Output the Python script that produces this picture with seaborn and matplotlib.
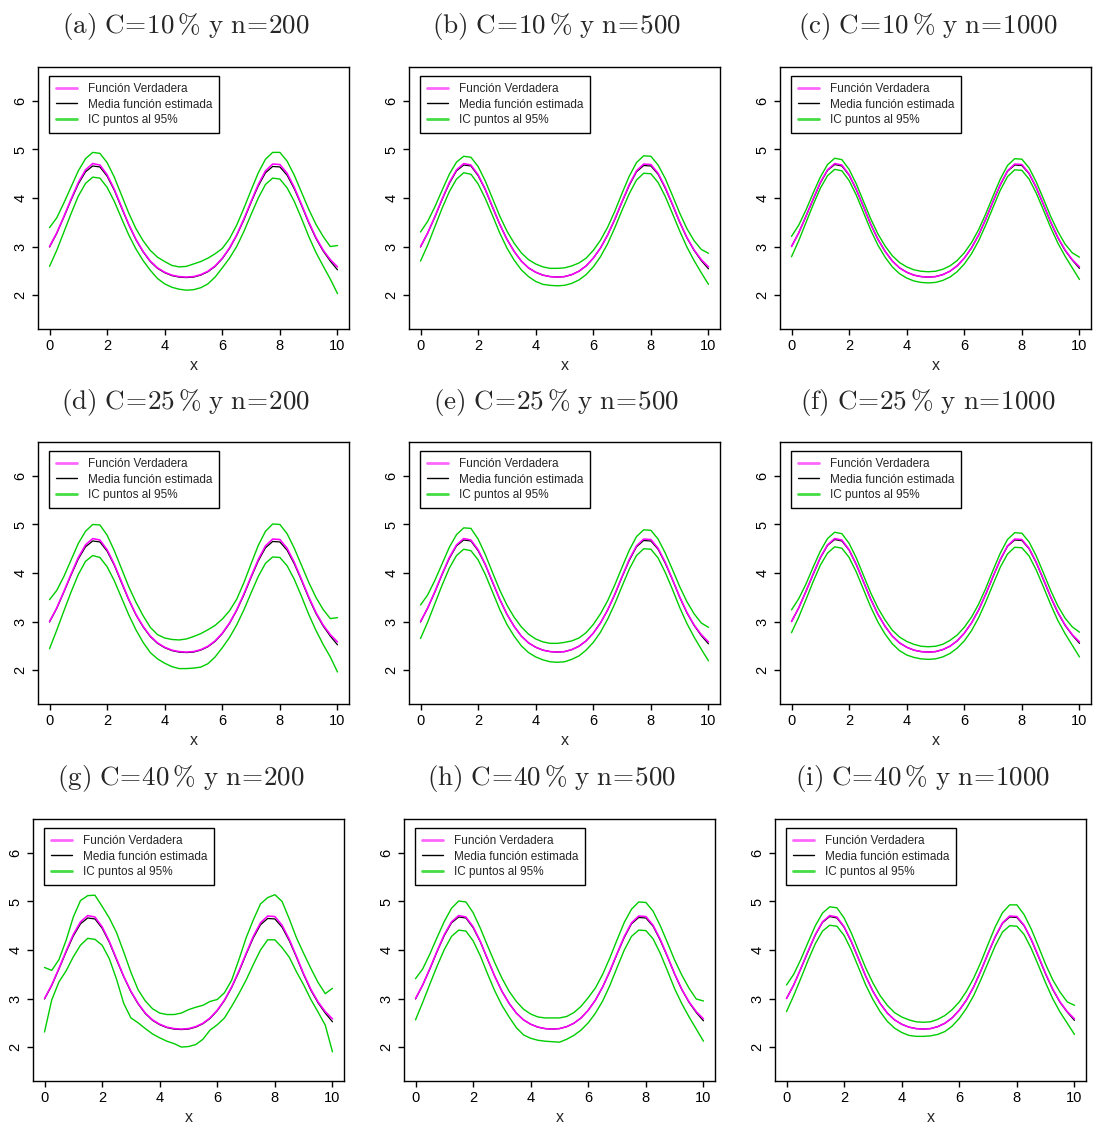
import numpy as np
import pandas as pd
import matplotlib
matplotlib.use("Agg")
import matplotlib.pyplot as plt
import seaborn as sns
from matplotlib.lines import Line2D

# ---------------- data ----------------
x_grid = np.linspace(0, 10, 41)

true_f = [3.00,3.28,3.62,3.98,4.32,4.58,4.71,4.68,4.48,4.18,3.82,3.46,3.15,2.90,2.70,2.56,2.47,2.41,2.38,2.37,2.38,2.42,2.49,2.60,2.76,2.97,3.24,3.57,3.93,4.28,4.56,4.70,4.69,4.51,4.22,3.87,3.51,3.19,2.93,2.73,2.58]

mean_n200 = [2.99,3.27,3.61,3.96,4.29,4.54,4.66,4.64,4.45,4.16,3.80,3.45,3.14,2.89,2.69,2.55,2.46,2.40,2.37,2.36,2.37,2.41,2.48,2.59,2.75,2.96,3.23,3.55,3.91,4.25,4.52,4.65,4.64,4.47,4.19,3.85,3.49,3.17,2.91,2.70,2.52]
mean_n500 = [2.99,3.28,3.61,3.97,4.30,4.56,4.68,4.66,4.46,4.17,3.81,3.46,3.15,2.90,2.70,2.56,2.47,2.41,2.38,2.37,2.38,2.42,2.49,2.60,2.76,2.97,3.24,3.56,3.92,4.26,4.54,4.67,4.66,4.49,4.20,3.86,3.50,3.18,2.92,2.71,2.54]
mean_n1000 = [3.00,3.28,3.62,3.97,4.31,4.57,4.69,4.66,4.47,4.17,3.82,3.46,3.15,2.90,2.70,2.56,2.47,2.41,2.38,2.37,2.38,2.42,2.49,2.60,2.76,2.97,3.24,3.57,3.93,4.27,4.55,4.68,4.67,4.50,4.21,3.86,3.50,3.18,2.92,2.72,2.55]

up_a = [3.39,3.59,3.90,4.23,4.56,4.81,4.94,4.92,4.73,4.43,4.06,3.69,3.37,3.12,2.92,2.78,2.69,2.61,2.58,2.59,2.64,2.69,2.76,2.85,2.96,3.16,3.44,3.79,4.16,4.52,4.80,4.94,4.94,4.76,4.47,4.12,3.77,3.46,3.21,3.00,3.02]
lo_a = [2.59,2.92,3.30,3.68,4.04,4.30,4.43,4.41,4.22,3.93,3.58,3.24,2.95,2.71,2.51,2.34,2.23,2.16,2.12,2.10,2.11,2.15,2.23,2.37,2.56,2.76,3.00,3.31,3.66,4.00,4.28,4.41,4.39,4.21,3.93,3.58,3.21,2.88,2.60,2.33,2.03]
up_b = [3.30,3.52,3.82,4.16,4.49,4.74,4.86,4.84,4.65,4.35,3.99,3.63,3.32,3.07,2.87,2.73,2.64,2.58,2.55,2.55,2.56,2.60,2.66,2.76,2.92,3.13,3.40,3.73,4.10,4.45,4.73,4.87,4.86,4.68,4.40,4.05,3.69,3.37,3.12,2.94,2.86]
lo_b = [2.70,3.03,3.41,3.79,4.13,4.39,4.52,4.49,4.29,3.99,3.64,3.28,2.97,2.72,2.52,2.38,2.28,2.22,2.20,2.19,2.20,2.24,2.31,2.42,2.58,2.79,3.06,3.39,3.75,4.09,4.37,4.51,4.50,4.32,4.03,3.68,3.32,2.99,2.71,2.46,2.22]
up_c = [3.21,3.44,3.75,4.10,4.43,4.69,4.82,4.79,4.59,4.29,3.93,3.57,3.26,3.01,2.81,2.67,2.58,2.52,2.49,2.48,2.49,2.53,2.60,2.71,2.87,3.08,3.35,3.68,4.04,4.39,4.67,4.81,4.80,4.62,4.33,3.98,3.62,3.31,3.05,2.87,2.78]
lo_c = [2.79,3.12,3.49,3.86,4.20,4.46,4.59,4.56,4.36,4.06,3.70,3.34,3.03,2.78,2.58,2.44,2.35,2.29,2.26,2.25,2.26,2.30,2.37,2.48,2.64,2.85,3.12,3.45,3.81,4.16,4.44,4.58,4.57,4.39,4.10,3.75,3.39,3.07,2.80,2.56,2.32]
up_d = [3.45,3.64,3.93,4.27,4.61,4.86,5.00,4.99,4.78,4.46,4.09,3.72,3.40,3.12,2.88,2.73,2.66,2.63,2.62,2.64,2.69,2.75,2.83,2.92,3.05,3.22,3.46,3.80,4.19,4.57,4.86,5.01,5.00,4.81,4.51,4.16,3.81,3.50,3.25,3.06,3.08]
lo_d = [2.44,2.82,3.22,3.61,3.97,4.24,4.36,4.32,4.13,3.84,3.49,3.14,2.83,2.57,2.36,2.23,2.14,2.07,2.03,2.03,2.04,2.06,2.13,2.27,2.46,2.67,2.93,3.24,3.59,3.93,4.20,4.33,4.32,4.15,3.87,3.52,3.15,2.82,2.53,2.27,1.96]
up_e = [3.34,3.55,3.85,4.19,4.53,4.79,4.93,4.92,4.70,4.38,4.01,3.65,3.34,3.09,2.89,2.74,2.64,2.58,2.55,2.55,2.57,2.60,2.66,2.77,2.94,3.16,3.43,3.76,4.12,4.47,4.75,4.89,4.88,4.70,4.41,4.07,3.72,3.41,3.16,2.97,2.88]
lo_e = [2.65,2.99,3.37,3.75,4.10,4.36,4.49,4.46,4.27,3.97,3.61,3.25,2.94,2.70,2.50,2.36,2.27,2.21,2.17,2.16,2.17,2.22,2.29,2.41,2.57,2.78,3.05,3.37,3.73,4.08,4.36,4.50,4.49,4.31,4.01,3.66,3.29,2.96,2.68,2.43,2.19]
up_f = [3.24,3.47,3.77,4.12,4.45,4.71,4.84,4.81,4.61,4.31,3.95,3.59,3.28,3.03,2.82,2.68,2.59,2.53,2.49,2.48,2.49,2.53,2.61,2.72,2.88,3.09,3.36,3.69,4.06,4.41,4.69,4.83,4.82,4.64,4.35,4.00,3.64,3.32,3.07,2.89,2.78]
lo_f = [2.77,3.09,3.45,3.82,4.16,4.41,4.54,4.51,4.32,4.02,3.66,3.30,2.99,2.74,2.54,2.40,2.31,2.26,2.23,2.22,2.23,2.27,2.34,2.45,2.60,2.81,3.08,3.41,3.77,4.12,4.39,4.53,4.52,4.35,4.06,3.71,3.35,3.02,2.75,2.51,2.27]
up_g = [3.64,3.58,3.80,4.20,4.68,5.02,5.12,5.13,4.90,4.66,4.36,3.96,3.54,3.18,2.95,2.79,2.70,2.67,2.67,2.70,2.77,2.82,2.86,2.94,2.98,3.12,3.38,3.80,4.25,4.62,4.95,5.08,5.14,5.00,4.64,4.25,3.93,3.62,3.33,3.10,3.21]
lo_g = [2.31,2.97,3.34,3.57,3.86,4.10,4.24,4.22,4.10,3.82,3.40,2.90,2.60,2.50,2.38,2.27,2.19,2.12,2.07,2.00,2.01,2.05,2.16,2.35,2.46,2.60,2.84,3.10,3.38,3.70,4.00,4.21,4.21,4.05,3.85,3.55,3.28,2.98,2.72,2.45,1.90]
up_h = [3.41,3.61,3.92,4.26,4.59,4.86,5.01,4.99,4.77,4.45,4.09,3.74,3.42,3.15,2.94,2.78,2.68,2.62,2.60,2.60,2.60,2.63,2.71,2.84,3.02,3.22,3.50,3.84,4.21,4.57,4.84,4.99,4.98,4.80,4.50,4.15,3.79,3.48,3.21,2.99,2.95]
lo_h = [2.56,2.92,3.30,3.67,4.01,4.28,4.41,4.39,4.19,3.88,3.51,3.16,2.86,2.62,2.40,2.25,2.18,2.14,2.12,2.11,2.10,2.16,2.24,2.35,2.50,2.70,2.95,3.27,3.64,4.00,4.28,4.41,4.40,4.23,3.93,3.57,3.20,2.89,2.62,2.37,2.12]
up_i = [3.28,3.50,3.81,4.16,4.50,4.76,4.89,4.87,4.66,4.35,3.99,3.63,3.32,3.06,2.86,2.71,2.62,2.56,2.52,2.51,2.52,2.57,2.65,2.77,2.93,3.15,3.42,3.75,4.12,4.48,4.77,4.93,4.93,4.73,4.43,4.07,3.70,3.38,3.13,2.93,2.86]
lo_i = [2.73,3.06,3.42,3.79,4.13,4.39,4.51,4.49,4.30,4.00,3.64,3.28,2.98,2.73,2.53,2.39,2.30,2.24,2.22,2.22,2.23,2.26,2.32,2.43,2.59,2.80,3.06,3.39,3.74,4.09,4.37,4.50,4.49,4.32,4.03,3.68,3.32,2.99,2.72,2.49,2.26]

panel_letters = ["a", "b", "c", "d", "e", "f", "g", "h", "i"]
censoring = ["10", "10", "10", "25", "25", "25", "40", "40", "40"]
sample_sizes = ["200", "500", "1000", "200", "500", "1000", "200", "500", "1000"]
mean_by_n = {"200": mean_n200, "500": mean_n500, "1000": mean_n1000}
upper_bands = [up_a, up_b, up_c, up_d, up_e, up_f, up_g, up_h, up_i]
lower_bands = [lo_a, lo_b, lo_c, lo_d, lo_e, lo_f, lo_g, lo_h, lo_i]

legend_labels = ["Función Verdadera", "Media función estimada", "IC puntos al 95%"]
x_ticks = [0, 2, 4, 6, 8, 10]
y_ticks = [2, 3, 4, 5, 6]

# ---------------- style ----------------
sns.set_theme(style="ticks")
plt.rcParams["font.family"] = ["Liberation Sans", "DejaVu Sans"]
plt.rcParams["mathtext.fontset"] = "cm"
plt.rcParams["axes.edgecolor"] = "black"
plt.rcParams["axes.linewidth"] = 1.0

COL_TRUE = "#FF00FF"
COL_MEAN = "black"
COL_CI = "#00CD00"

W, H = 1093, 1124
fig = plt.figure(figsize=(W / 100, H / 100), dpi=100)
fig.patch.set_facecolor("white")

lefts = [[38, 409, 780], [38, 409, 780], [33, 404, 775]]
tops = [67, 442, 819]
title_y = [26, 402, 778]
pw, ph = 311, 262

for k in range(9):
    r, c = divmod(k, 3)
    L, T = lefts[r][c], tops[r]
    ax = fig.add_axes([L / W, 1 - (T + ph) / H, pw / W, ph / H])
    ax.set_facecolor("white")

    df = pd.DataFrame({
        "x": x_grid,
        "true": true_f,
        "mean": mean_by_n[sample_sizes[k]],
        "lo": lower_bands[k],
        "up": upper_bands[k],
    })
    sns.lineplot(data=df, x="x", y="mean", ax=ax, color=COL_MEAN, linewidth=0.9,
                 estimator=None, sort=False, legend=False)
    sns.lineplot(data=df, x="x", y="true", ax=ax, color=COL_TRUE, linewidth=1.15,
                 estimator=None, sort=False, legend=False)
    sns.lineplot(data=df, x="x", y="lo", ax=ax, color=COL_CI, linewidth=1.0,
                 estimator=None, sort=False, legend=False)
    sns.lineplot(data=df, x="x", y="up", ax=ax, color=COL_CI, linewidth=1.0,
                 estimator=None, sort=False, legend=False)

    ax.set_xlim(-0.4, 10.4)
    ax.set_ylim(1.3, 6.7)
    ax.set_xticks(x_ticks)
    ax.set_yticks(y_ticks)
    ax.set_xticklabels([str(v) for v in x_ticks])
    ax.set_yticklabels([str(v) for v in y_ticks], rotation=90, va="center")
    ax.tick_params(axis="both", direction="out", length=4.5, width=1.0,
                   labelsize=10.5, color="black", labelcolor="black")
    ax.tick_params(axis="x", pad=3)
    ax.tick_params(axis="y", pad=3)
    ax.set_xlabel("x", fontsize=11.5, labelpad=3)
    ax.set_ylabel("")
    for sp in ax.spines.values():
        sp.set_visible(True)
        sp.set_color("black")
        sp.set_linewidth(1.0)

    handles = [Line2D([], [], color="#FF66FF", lw=2.0),
               Line2D([], [], color=COL_MEAN, lw=1.0),
               Line2D([], [], color="#44DD44", lw=2.0)]
    leg = ax.legend(handles, legend_labels, loc="upper left",
                    bbox_to_anchor=(0.035, 0.966), borderaxespad=0,
                    fontsize=8.5, frameon=True, fancybox=False, framealpha=1,
                    edgecolor="black", handlelength=1.8, handletextpad=0.9,
                    labelspacing=0.3, borderpad=0.6)
    leg.get_frame().set_linewidth(1.0)

    title = (r"$\mathrm{(" + panel_letters[k] + r")\ C\!=\!" + censoring[k]
             + r"\,\%\ y\ n\!=\!" + sample_sizes[k] + r"}$")
    fig.text((L + pw / 2 - 8) / W, 1 - title_y[r] / H, title,
             ha="center", va="center", fontsize=19.5)

fig.savefig("out.png", dpi=100, facecolor="white")
